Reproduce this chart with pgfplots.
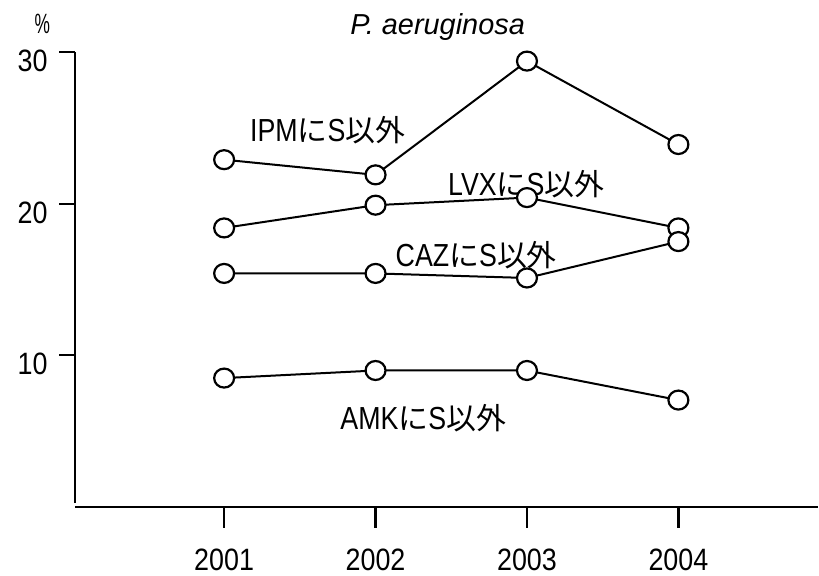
\documentclass[border=0pt]{standalone}
\usepackage{fontspec}
\setmainfont{Liberation Sans}
\newfontfamily\cond[FakeStretch=0.87]{Liberation Sans}
\newfontfamily\condl[FakeStretch=0.84]{Liberation Sans}
\newfontfamily\pct[FakeStretch=0.62]{Liberation Sans}
\newfontfamily\jp{Noto Sans CJK JP}
\newcommand{\J}[1]{{\jp\fontsize{30}{34}\selectfont #1}}
\usepackage{pgfplots}
\pgfplotsset{compat=1.18}
\begin{document}
\begin{tikzpicture}
\useasboundingbox (0,0) rectangle (819bp,576bp);
\begin{axis}[
  at={(72.7bp,69bp)}, anchor=south west,
  scale only axis, width=745bp, height=455bp,
  xmin=0, xmax=4.92, ymin=0, ymax=30,
  clip=false,
  axis line style={draw=none},
  major tick length=0pt,
  xtick={1,2,3,4},
  xticklabels={2001,2002,2003,2004},
  ytick={10,20,30},
  /pgf/number format/assume math mode=true,
  ticklabel style={font=\cond\fontsize{31}{35}\selectfont, inner sep=0pt},
  xticklabel style={anchor=center, yshift=-53bp},
  yticklabel style={anchor=east, xshift=-25bp, yshift=-9bp},
  ser/.style={line width=2bp, black, mark=*, mark size=9.5bp,
     mark options={fill=white, draw=black, line width=2.2bp, xscale=1.05}},
]
% axes and ticks
\draw[line width=2.2bp] (axis cs:0.015,0.25) -- (axis cs:0.015,30);
\draw[line width=2.2bp] (axis cs:0.015,0) -- (axis cs:4.92,0);
\pgfplotsinvokeforeach{1,2,3,4}{\draw[line width=2.2bp] (axis cs:#1,0) -- ++(0,-21bp);}
\pgfplotsinvokeforeach{10,20,30}{\draw[line width=2.2bp] (axis cs:0.015,#1) -- ++(-16bp,0);}
% series
\addplot[ser] coordinates {(1,22.9) (2,21.9) (3,29.4) (4,23.9)};
\addplot[ser] coordinates {(1,18.4) (2,19.9) (3,20.4) (4,18.4)};
\addplot[ser] coordinates {(1,15.4) (2,15.4) (3,15.1) (4,17.5)};
\addplot[ser] coordinates {(1,8.5) (2,9.0) (3,9.0) (4,7.05)};
% labels
\begin{scope}[every node/.style={font=\condl\fontsize{32}{36}\selectfont, inner sep=0pt}]
\node at (axis cs:1.684,24.85) {IPM\J{に}S\J{以外}};
\node at (axis cs:2.995,21.29) {LVX\J{に}S\J{以外}};
\node at (axis cs:2.665,16.61) {CAZ\J{に}S\J{以外}};
\node at (axis cs:2.315,5.87) {AMK\J{に}S\J{以外}};
\end{scope}
\node[font=\fontsize{29}{33}\selectfont\itshape, inner sep=0pt] at (axis cs:2.41,31.64) {P. aeruginosa};
\node[font=\pct\fontsize{28}{32}\selectfont, inner sep=0pt] at (axis cs:-0.20,31.84) {\%};
\end{axis}
\end{tikzpicture}
\end{document}
